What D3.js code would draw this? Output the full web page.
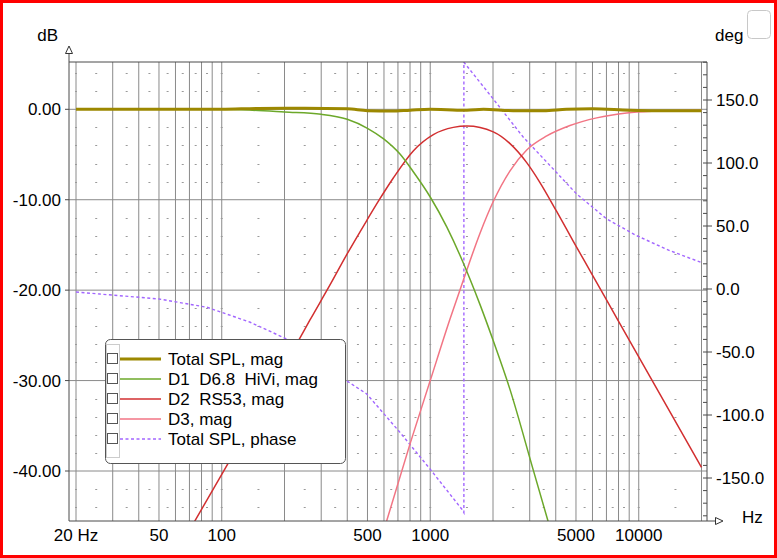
<!DOCTYPE html>
<html>
<head>
<meta charset="utf-8">
<script src="https://cdn.jsdelivr.net/npm/d3@7"></script>
<style>
    body { margin: 0; background: #fff; }
    text { font-family: "Liberation Sans", Arial, sans-serif; font-size: 17px; fill: #000; }
</style>
</head>
<body>
<div id="chart"></div>
<script>
// tick labels
var hzTicks = [20, 50, 100, 500, 1000, 5000, 10000];
var hzLabels = ["20 Hz", "50", "100", "500", "1000", "5000", "10000"];
var dbTicks = [0, -10, -20, -30, -40];
var dbLabels = ["0.00", "-10.00", "-20.00", "-30.00", "-40.00"];
var degTicks = [150, 100, 50, 0, -50, -100, -150];
var degLabels = ["150.0", "100.0", "50.0", "0.0", "-50.0", "-100.0", "-150.0"];

// Total SPL, mag
var totalFreq = [20, 100, 150, 250, 400, 500, 650, 800, 1000, 1200, 1500, 1800, 2500, 3500, 4500, 6000, 9000, 12000, 20000];
var totalMag = [0, 0, 0.1, 0.12, 0.05, -0.15, -0.2, -0.1, 0, -0.05, -0.1, 0, -0.15, -0.15, 0, 0.05, -0.1, -0.15, -0.15];
// D1 D6.8 HiVi
var d1Freq = [20, 50, 100, 140, 200, 300, 400, 500, 600, 716, 826, 1000, 1200, 1441, 1552, 1733, 2006, 2414, 3121, 3700];
var d1Mag = [0, 0, 0, -0.1, -0.3, -0.55, -1.1, -2.1, -3.3, -4.95, -6.85, -9.7, -13, -17, -18.8, -21.6, -25.6, -31, -39.9, -45.8];
// D2 RS53
var d2Freq = [74, 101, 150, 237, 265, 331, 397, 496, 570, 665, 829, 1035, 1290, 1500, 2006, 2414, 2902, 3360, 4040, 4855, 6055, 7980, 20000];
var d2Mag = [-45.6, -40.2, -33.3, -25.3, -23.3, -19.4, -16.1, -12.3, -10, -7.6, -4.6, -2.8, -2, -1.85, -2.5, -3.8, -5.9, -8.1, -11.3, -14.6, -18.5, -23.4, -39.6];
// D3
var d3Freq = [600, 800, 1000, 1244, 1441, 1733, 2006, 2414, 2902, 3622, 4679, 6286, 8756, 11740, 16000, 20000];
var d3Mag = [-46.5, -37, -30, -23.2, -18.9, -13.7, -10.2, -6.8, -4.5, -2.95, -1.8, -0.95, -0.4, -0.2, -0.12, -0.1];
// Total SPL, phase (deg)
var phaseFreq = [20, 26, 50, 85, 137, 205, 397, 496, 716, 998, 1415, 1450, 1450, 2006, 2797, 3891, 5037, 7020, 9776, 14120, 20000];
var phaseDeg = [-2.4, -4, -7.9, -14.5, -26.4, -39.7, -72.8, -83.3, -113.8, -142.9, -174.6, -177.5, 180, 150.8, 120.4, 95.2, 75.4, 55.6, 42.3, 30.4, 21];

var seriesNames = ["Total SPL, mag", "D1  D6.8  HiVi, mag", "D2  RS53, mag", "D3, mag", "Total SPL, phase"];
var seriesColors = ["#9c8800", "#6ca82a", "#d22f30", "#f27584", "#a266ff"];

function init() {
    var w = 777;
    var h = 558;
    var left = 69, right = 707, top = 62, bottom = 521;

    var svg = d3.select("#chart").append("svg").attr("width", w).attr("height", h);

    var xScale = d3.scaleLog().domain([20, 20000]).range([76, 701.5]);
    var yScale = d3.scaleLinear().domain([0, -40]).range([109.3, 471]);
    var yDeg = d3.scaleLinear().domain([150, -150]).range([100, 478]);

    // grid
    svg.append("g").selectAll("line").data(xScale.ticks())
        .enter().append("line")
        .attr("x1", d => xScale(d)).attr("x2", d => xScale(d))
        .attr("y1", top).attr("y2", bottom)
        .attr("stroke", "#8a8a8a");
    svg.append("g").selectAll("line").data(dbTicks)
        .enter().append("line")
        .attr("x1", left).attr("x2", right)
        .attr("y1", d => yScale(d)).attr("y2", d => yScale(d))
        .attr("stroke", "#8a8a8a");

    // little grey dashes between the grid lines
    var dotFreqs = [20];
    [10, 100, 1000, 10000].forEach(function (dec) {
        [1, 1.5, 2.5, 3.5, 4.5, 5.5, 6.5, 7.5, 8.5].forEach(function (m) {
            var f = m * dec;
            if (f > 20 && f < 20000) dotFreqs.push(f);
        });
    });
    var dotLevels = d3.range(4, -45, -2).filter(v => v % 10 !== 0);
    var dots = [];
    dotFreqs.forEach(f => dotLevels.forEach(v => dots.push([f, v])));
    svg.append("g").selectAll("rect").data(dots)
        .enter().append("rect")
        .attr("x", d => xScale(d[0]) - 1)
        .attr("y", d => Math.round(yScale(d[1])))
        .attr("width", 2).attr("height", 1)
        .attr("fill", "#9a9a9a");

    // curves
    svg.append("clipPath").attr("id", "plot")
        .append("rect").attr("x", left).attr("y", top)
        .attr("width", right - left).attr("height", bottom - top);

    var magLine = d3.line()
        .x(d => xScale(d[0]))
        .y(d => yScale(d[1]))
        .curve(d3.curveMonotoneX);
    var phaseLine = d3.line()
        .x(d => xScale(d[0]))
        .y(d => yDeg(d[1]));

    var curves = svg.append("g").attr("clip-path", "url(#plot)");
    curves.append("path")
        .attr("d", phaseLine(d3.zip(phaseFreq, phaseDeg)))
        .attr("fill", "none").attr("stroke", seriesColors[4])
        .attr("stroke-width", 1.4).attr("stroke-dasharray", "3,2.5");
    curves.append("path")
        .attr("d", magLine(d3.zip(d3Freq, d3Mag)))
        .attr("fill", "none").attr("stroke", seriesColors[3]).attr("stroke-width", 1.5);
    curves.append("path")
        .attr("d", magLine(d3.zip(d2Freq, d2Mag)))
        .attr("fill", "none").attr("stroke", seriesColors[2]).attr("stroke-width", 1.5);
    curves.append("path")
        .attr("d", magLine(d3.zip(d1Freq, d1Mag)))
        .attr("fill", "none").attr("stroke", seriesColors[1]).attr("stroke-width", 1.5);
    curves.append("path")
        .attr("d", magLine(d3.zip(totalFreq, totalMag)))
        .attr("fill", "none").attr("stroke", seriesColors[0]).attr("stroke-width", 3);

    // frame and axes
    var axisColor = "#4a4a4a";
    svg.append("line").attr("x1", left).attr("x2", right).attr("y1", top).attr("y2", top).attr("stroke", axisColor);
    svg.append("line").attr("x1", right).attr("x2", right).attr("y1", top).attr("y2", bottom).attr("stroke", axisColor);
    svg.append("line").attr("x1", left).attr("x2", left).attr("y1", 53).attr("y2", bottom).attr("stroke", axisColor);
    svg.append("line").attr("x1", left).attr("x2", 715).attr("y1", bottom).attr("y2", bottom).attr("stroke", axisColor);
    svg.append("path").attr("d", "M69,46L65.5,53.5L72.5,53.5Z")
        .attr("fill", "#fff").attr("stroke", "#333");
    svg.append("path").attr("d", "M723,521L715.5,517.5L715.5,524.5Z")
        .attr("fill", "#fff").attr("stroke", "#333");

    // left axis
    var yAxis = svg.append("g");
    yAxis.selectAll("line").data(dbTicks).enter().append("line")
        .attr("x1", 65).attr("x2", left)
        .attr("y1", d => yScale(d)).attr("y2", d => yScale(d))
        .attr("stroke", axisColor);
    yAxis.selectAll("text").data(dbTicks).enter().append("text")
        .attr("x", 61).attr("y", d => yScale(d)).attr("dy", "0.36em")
        .attr("text-anchor", "end")
        .text((d, i) => dbLabels[i]);

    // right axis
    var degAxis = svg.append("g");
    degAxis.selectAll("line.minor").data(d3.range(-180, 181, 10)).enter().append("line")
        .attr("x1", 703).attr("x2", right)
        .attr("y1", d => yDeg(d)).attr("y2", d => yDeg(d))
        .attr("stroke", axisColor);
    degAxis.selectAll("line.major").data(degTicks).enter().append("line")
        .attr("x1", right).attr("x2", 712)
        .attr("y1", d => yDeg(d)).attr("y2", d => yDeg(d))
        .attr("stroke", axisColor);
    degAxis.selectAll("text").data(degTicks).enter().append("text")
        .attr("x", 716).attr("y", d => yDeg(d)).attr("dy", "0.36em")
        .text((d, i) => degLabels[i]);

    // bottom axis
    svg.append("g").selectAll("text").data(hzTicks).enter().append("text")
        .attr("x", d => xScale(d)).attr("y", 541)
        .attr("text-anchor", "middle")
        .text((d, i) => hzLabels[i]);

    // axis titles
    svg.append("text").attr("x", 58).attr("y", 41).attr("text-anchor", "end").text("dB");
    svg.append("text").attr("x", 715).attr("y", 41).text("deg");
    svg.append("text").attr("x", 742).attr("y", 523).text("Hz");

    // legend
    var legend = svg.append("g");
    legend.append("rect")
        .attr("x", 105.5).attr("y", 339.5).attr("width", 240).attr("height", 124)
        .attr("rx", 5).attr("fill", "#fff").attr("stroke", "#555");
    legend.append("rect")
        .attr("x", 106.5).attr("y", 344.5).attr("width", 13).attr("height", 113)
        .attr("fill", "none").attr("stroke", "#999").attr("stroke-dasharray", "1,1");
    var rows = legend.selectAll("g.row").data(seriesNames).enter().append("g")
        .attr("transform", (d, i) => "translate(0," + (359 + i * 20) + ")");
    rows.append("rect")
        .attr("x", 107.5).attr("y", -5.5).attr("width", 10).attr("height", 10)
        .attr("fill", "#fff").attr("stroke", "#555");
    rows.append("line")
        .attr("x1", 120).attr("x2", 161).attr("y1", 0).attr("y2", 0)
        .attr("stroke", (d, i) => seriesColors[i])
        .attr("stroke-width", (d, i) => i === 0 ? 3 : 1.5)
        .attr("stroke-dasharray", (d, i) => i === 4 ? "3,2.5" : null);
    rows.append("text")
        .attr("x", 168).attr("y", 6)
        .style("white-space", "pre")
        .text(d => d);

    // small box top right and the red border
    svg.append("rect").attr("x", 747.5).attr("y", 10.5).attr("width", 23).attr("height", 28)
        .attr("rx", 4).attr("fill", "#fff").attr("stroke", "#c8c8c8");
    svg.append("rect").attr("x", 1.5).attr("y", 1.5).attr("width", w - 3).attr("height", h - 3)
        .attr("fill", "none").attr("stroke", "#ff0000").attr("stroke-width", 3);
}
window.onload = init;
</script>
</body>
</html>
